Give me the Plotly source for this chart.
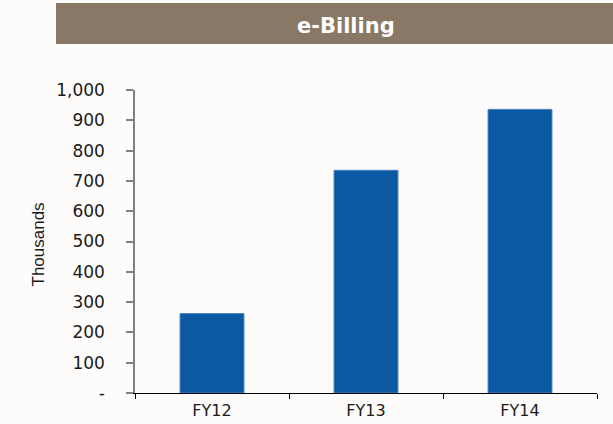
import plotly.graph_objects as go

categories = ["FY12", "FY13", "FY14"]
values = [262, 735, 936]
y_tick_vals = [0, 100, 200, 300, 400, 500, 600, 700, 800, 900, 1000]
y_tick_text = ["-", "100", "200", "300", "400", "500", "600", "700", "800", "900", "1,000"]

W, H = 613, 424
L, R, T, B = 135, 16, 90, 31
pw, ph = W - L - R, H - T - B

def px(x):
    return (x - L) / pw

def py(y):
    return (H - B - y) / ph

fig = go.Figure(go.Bar(
    x=categories, y=values, width=0.415,
    marker=dict(color="#0B58A3", line=dict(color="#4A7FBE", width=1)),
))

fig.update_layout(
    width=W, height=H,
    margin=dict(l=L, r=R, t=T, b=B, autoexpand=False),
    paper_bgcolor="#FDFCFB", plot_bgcolor="#FDFCFB",
    showlegend=False,
    font=dict(family="DejaVu Sans", color="#1a1a1a", size=17),
    shapes=[dict(type="rect", xref="paper", yref="paper",
                 x0=px(56), x1=px(620), y0=py(44), y1=py(3),
                 fillcolor="#8A7867", line=dict(width=0), layer="below")],
    annotations=[
        dict(text="<b>e-Billing</b>", xref="paper", yref="paper",
             x=px(346), y=py(26), xanchor="center", yanchor="middle",
             showarrow=False, font=dict(family="DejaVu Sans", size=21, color="white")),
        dict(text="Thousands", xref="paper", yref="paper", textangle=-90,
             x=px(37.5), y=py(245), xanchor="center", yanchor="middle",
             showarrow=False, font=dict(family="Liberation Sans", size=17, color="#1a1a1a")),
    ],
)

fig.update_yaxes(
    range=[0, 1000], tickvals=y_tick_vals, ticktext=y_tick_text,
    showgrid=False, zeroline=False, showline=True, linecolor="#808080", linewidth=1.5,
    ticks="outside", ticklen=7, tickcolor="#808080", tickwidth=1.5,
    ticklabelstandoff=18, automargin=False,
)
fig.update_xaxes(
    showgrid=False, showline=True, linecolor="#000000", linewidth=1,
    ticks="outside", ticklen=5, tickcolor="#000000", tickson="boundaries",
    range=[-0.5, 2.5], ticklabelstandoff=3, automargin=False,
    tickfont=dict(size=16),
)

fig.write_html(
    "out.html",
    config={"displayModeBar": False},
    post_script="document.body.style.margin='0';document.body.style.background='#FDFCFB';",
)
